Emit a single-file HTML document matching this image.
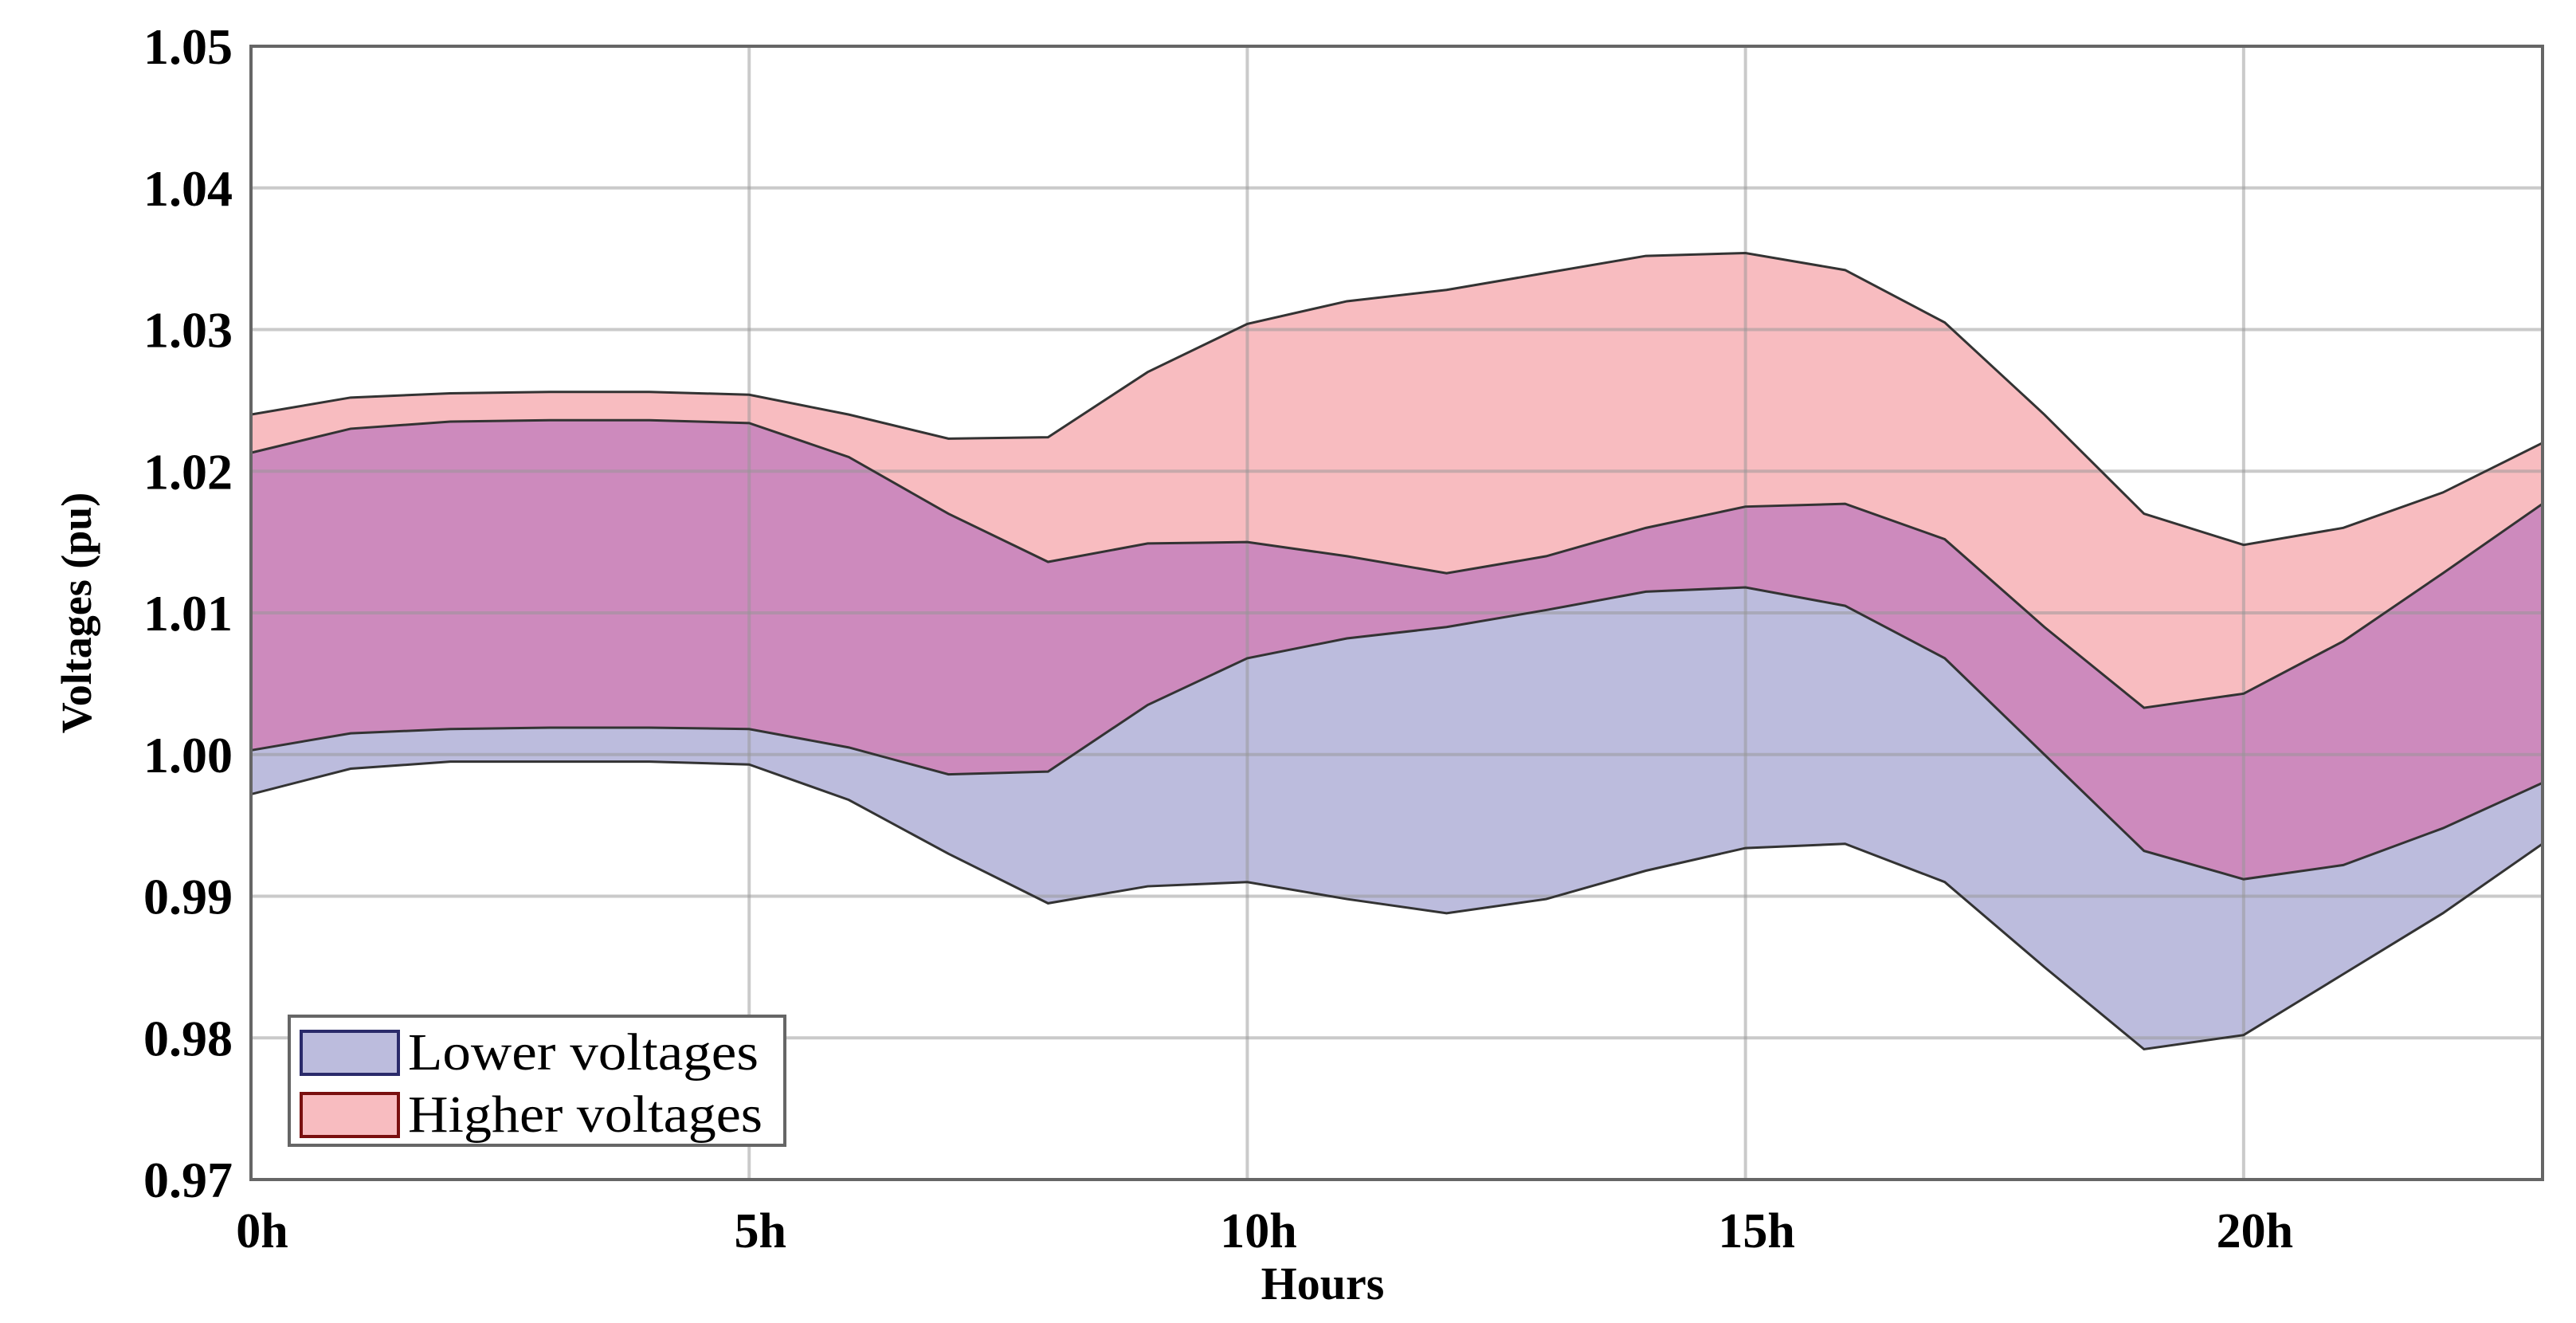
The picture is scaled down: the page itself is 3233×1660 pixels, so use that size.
<!DOCTYPE html>
<html><head><meta charset="utf-8"><style>
html,body{margin:0;padding:0;background:#fff;width:3233px;height:1660px;overflow:hidden}
svg{display:block}
text{font-family:"Liberation Serif",serif}
</style></head>
<body>
<svg id="chart" width="3233" height="1660" viewBox="0 0 3233 1660" xmlns="http://www.w3.org/2000/svg">
<g id="fills"></g>
<g id="grid"></g>
<g id="lines"></g>
<g id="ticks"></g>
<rect x="315" y="58" width="2876" height="1422" fill="none" stroke="#666" stroke-width="4"/>
<text x="0" y="0" transform="translate(114,769) rotate(-90)" text-anchor="middle" font-size="54" font-weight="bold">Voltages (pu)</text>
<text x="1660" y="1630" text-anchor="middle" font-size="58" font-weight="bold">Hours</text>
<g>
<rect x="363" y="1275" width="622" height="162" fill="#fff" stroke="#666" stroke-width="4"/>
<rect x="378" y="1294" width="122" height="54" fill="#bcbcdd" stroke="#2a2a6a" stroke-width="4"/>
<text x="512" y="1342" font-size="66" textLength="440" lengthAdjust="spacingAndGlyphs">Lower voltages</text>
<rect x="378" y="1372" width="122" height="54" fill="#f8bcc0" stroke="#7a1010" stroke-width="4"/>
<text x="512" y="1420" font-size="66" textLength="445" lengthAdjust="spacingAndGlyphs">Higher voltages</text>
</g>
</svg>
<script>
const hours = [0,1,2,3,4,5,6,7,8,9,10,11,12,13,14,15,16,17,18,19,20,21,22,23];
const highUpper = [1.024,1.0252,1.0255,1.0256,1.0256,1.0254,1.024,1.0223,1.0224,1.027,1.0304,1.032,1.0328,1.034,1.0352,1.0354,1.0342,1.0305,1.024,1.017,1.0148,1.016,1.0185,1.022];
const highLower = [1.0003,1.0015,1.0018,1.0019,1.0019,1.0018,1.0005,0.9986,0.9988,1.0035,1.0068,1.0082,1.009,1.0102,1.0115,1.0118,1.0105,1.0068,1.0,0.9932,0.9912,0.9922,0.9948,0.998];
const lowUpper = [1.0213,1.023,1.0235,1.0236,1.0236,1.0234,1.021,1.017,1.0136,1.0149,1.015,1.014,1.0128,1.014,1.016,1.0175,1.0177,1.0152,1.009,1.0033,1.0043,1.008,1.0128,1.0177];
const lowLower = [0.9972,0.999,0.9995,0.9995,0.9995,0.9993,0.9968,0.993,0.9895,0.9907,0.991,0.9898,0.9888,0.9898,0.9918,0.9934,0.9937,0.991,0.985,0.9792,0.9802,0.9845,0.9888,0.9937];
const yTicks = [0.97,0.98,0.99,1.00,1.01,1.02,1.03,1.04,1.05];
const yTickLabels = ["0.97","0.98","0.99","1.00","1.01","1.02","1.03","1.04","1.05"];
const xTicks = [0,5,10,15,20];
const xTickLabels = ["0h","5h","10h","15h","20h"];

const L=315,R=3191,T=58,B=1480;
const xMin=0,xMax=23,yMin=0.97,yMax=1.05;
function sx(v){return L+(v-xMin)/(xMax-xMin)*(R-L);}
function sy(v){return B-(v-yMin)/(yMax-yMin)*(B-T);}
const NS="http://www.w3.org/2000/svg";
function band(upper,lower){
  let p=hours.map((h,i)=>sx(h)+','+sy(upper[i]));
  for(let i=hours.length-1;i>=0;i--)p.push(sx(hours[i])+','+sy(lower[i]));
  return p.join(' ');
}
function line(arr){return hours.map((h,i)=>sx(h)+','+sy(arr[i])).join(' ');}
const fills=document.getElementById('fills');
function poly(parent,pts,fill,name){
  const e=document.createElementNS(NS,'polygon');
  e.setAttribute('points',pts);e.setAttribute('fill',fill);
  
  
  parent.appendChild(e);
}
poly(fills,band(lowUpper,lowLower),'#bcbcdd','lower-voltage-band');
poly(fills,band(highUpper,highLower),'#f8bcc0','higher-voltage-band');
poly(fills,band(lowUpper,highLower),'#cd8abd','overlap-band');
const grid=document.getElementById('grid');
yTicks.forEach(v=>{
  const e=document.createElementNS(NS,'line');
  e.setAttribute('x1',L);e.setAttribute('x2',R);e.setAttribute('y1',sy(v));e.setAttribute('y2',sy(v));
  e.setAttribute('stroke','rgba(150,150,150,0.5)');e.setAttribute('stroke-width','4');
  
  
  grid.appendChild(e);
});
xTicks.forEach(v=>{
  const e=document.createElementNS(NS,'line');
  e.setAttribute('x1',sx(v));e.setAttribute('x2',sx(v));e.setAttribute('y1',T);e.setAttribute('y2',B);
  e.setAttribute('stroke','rgba(150,150,150,0.5)');e.setAttribute('stroke-width','4');
  
  
  grid.appendChild(e);
});
const lines=document.getElementById('lines');
[[highUpper,'high-upper-line'],[highLower,'high-lower-line'],[lowUpper,'low-upper-line'],[lowLower,'low-lower-line']].forEach(([a,n])=>{
  const e=document.createElementNS(NS,'polyline');
  e.setAttribute('points',line(a));e.setAttribute('fill','none');
  e.setAttribute('stroke','#333');e.setAttribute('stroke-width','3');
  
  
  lines.appendChild(e);
});
const ticks=document.getElementById('ticks');
yTicks.forEach((v,i)=>{
  const t=document.createElementNS(NS,'text');
  t.setAttribute('x',292);t.setAttribute('y',sy(v)+22);t.setAttribute('text-anchor','end');
  t.setAttribute('font-size','64');t.setAttribute('font-weight','bold');
  t.textContent=yTickLabels[i];
  
  
  ticks.appendChild(t);
});
xTicks.forEach((v,i)=>{
  const t=document.createElementNS(NS,'text');
  t.setAttribute('x',sx(v)+14);t.setAttribute('y',1565);t.setAttribute('text-anchor','middle');
  t.setAttribute('font-size','62');t.setAttribute('font-weight','bold');
  t.textContent=xTickLabels[i];
  
  
  ticks.appendChild(t);
});
</script>
</body></html>
